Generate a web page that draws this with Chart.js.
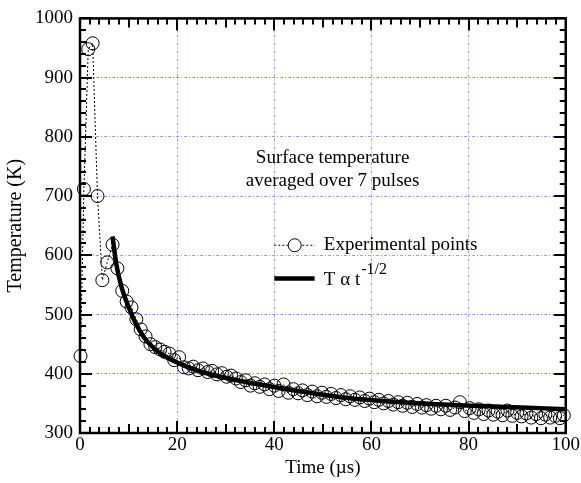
<!DOCTYPE html>
<html>
<head>
<meta charset="utf-8">
<script src="https://cdn.jsdelivr.net/npm/chart.js@4/dist/chart.umd.min.js"></script>
<style>
html,body{margin:0;padding:0;background:#fff;}
#wrap{width:581px;height:483px;}
</style>
</head>
<body>
<div id="wrap"><canvas id="c" width="581" height="483"></canvas></div>
<script>
// ---- data ----
const expTimes = [0.1,0.8,1.7,2.6,3.6,4.6,5.6,6.7,7.7,8.7,9.6,10.6,11.6,12.5,13.5,14.5,15.5,16.5,17.4,18.4,19.4,
  20.4,21.4,22.4,23.3,24.3,25.3,26.3,27.2,28.2,29.2,30.2,31.1,32.1,33.1,34.1,35.1,36.0,37.0,38.0,39.0,40.0,
  40.9,41.9,42.9,43.9,44.9,45.8,46.8,47.8,48.8,49.8,50.7,51.7,52.7,53.7,54.7,55.6,56.6,57.6,58.6,59.6,60.6,
  61.5,62.5,63.5,64.5,65.5,66.4,67.4,68.4,69.4,70.4,71.3,72.3,73.3,74.3,75.3,76.2,77.2,78.2,79.2,80.2,
  81.1,82.1,83.1,84.1,85.1,86.0,87.0,88.0,89.0,90.0,90.9,91.9,92.9,93.9,94.9,95.8,96.8,97.8,98.8,99.6];
const expTemps = [430,712,948,958,700,558,588,618,578,540,522,512,492,475,463,450,445,441,437,434,423,
  428,411,409,412,406,409,403,405,399,401,395,397,392,386,389,380,384,378,382,374,380,
  371,382,368,374,367,372,364,370,362,368,361,366,359,364,357,362,356,360,354,358,352,
  356,350,354,348,352,346,351,344,349,343,347,341,346,340,346,339,343,352,337,342,
  334,340,332,338,331,336,330,338,329,334,328,333,326,332,325,331,326,329,325,330];
const fitTimes = [6.7,7.5,8.6,9.9,11.3,13.3,15.0,16.8,20.3,23.6,27.4,34.2,41.1,48.0,54.1,60.9,67.8,75.0,80.8,87.6,94.5,100];
const fitTemps = [632,584,545,515,488,460,445,433,418,407,398,386,376,367,360,355,351,348,346,344,342,340];
const xTicks = [0,20,40,60,80,100];
const yTicks = [300,400,500,600,700,800,900,1000];
const xLabel = 'Time (µs)';
const yLabel = 'Temperature (K)';
const noteLines = ['Surface temperature','averaged over 7 pulses'];
const legendLabels = ['Experimental points','T α t'];
const legendSup = '-1/2';

const FONT = '"Liberation Serif", "Times New Roman", serif';
const GRID = 'rgba(90,90,255,0.6)';

const framePlugin = {
  id: 'frame',
  beforeDatasetsDraw(chart) {
    const {ctx, chartArea: a, scales: {x, y}} = chart;
    ctx.save();
    ctx.strokeStyle = '#000';
    ctx.lineWidth = 2;
    ctx.beginPath();
    for (let v = 0; v <= 100; v += 2) {
      const px = Math.round(x.getPixelForValue(v));
      let len = 6;
      if (v % 20 === 0) len = 12; else if (v % 10 === 0) len = 9;
      ctx.moveTo(px, a.bottom); ctx.lineTo(px, a.bottom - len);
      ctx.moveTo(px, a.top); ctx.lineTo(px, a.top + len);
    }
    for (let v = 300; v <= 1000; v += 20) {
      const py = Math.round(y.getPixelForValue(v));
      const len = (v % 100 === 0) ? 12 : 6;
      ctx.moveTo(a.left, py); ctx.lineTo(a.left + len, py);
      ctx.moveTo(a.right, py); ctx.lineTo(a.right - len, py);
    }
    ctx.stroke();
    ctx.lineWidth = 2.5;
    ctx.strokeRect(a.left, a.top, a.right - a.left, a.bottom - a.top);
    ctx.restore();
  },
  afterDraw(chart) {
    const {ctx, scales: {x, y}} = chart;
    ctx.save();
    ctx.fillStyle = '#000';
    ctx.font = '19px ' + FONT;
    ctx.textAlign = 'center';
    ctx.textBaseline = 'middle';
    ctx.fillText(noteLines[0], x.getPixelForValue(52), y.getPixelForValue(764));
    ctx.fillText(noteLines[1], x.getPixelForValue(52), y.getPixelForValue(726));
    const lx0 = x.getPixelForValue(40.0), lx1 = x.getPixelForValue(48.3), lxc = x.getPixelForValue(44.2);
    const ly1 = y.getPixelForValue(617), ly2 = y.getPixelForValue(561);
    ctx.strokeStyle = '#000';
    ctx.lineWidth = 1;
    ctx.setLineDash([2, 2]);
    ctx.beginPath(); ctx.moveTo(lx0, ly1); ctx.lineTo(lx1, ly1); ctx.stroke();
    ctx.setLineDash([]);
    ctx.fillStyle = '#fff';
    ctx.beginPath(); ctx.arc(lxc, ly1, 6.5, 0, Math.PI * 2); ctx.fill(); ctx.stroke();
    ctx.lineWidth = 4.5;
    ctx.beginPath(); ctx.moveTo(lx0, ly2); ctx.lineTo(lx1, ly2); ctx.stroke();
    ctx.fillStyle = '#000';
    ctx.textAlign = 'left';
    const tx = x.getPixelForValue(50.2);
    ctx.fillText(legendLabels[0], tx, ly1);
    ctx.fillText(legendLabels[1], tx, ly2 + 2);
    const w = ctx.measureText(legendLabels[1]).width;
    ctx.font = '16px ' + FONT;
    ctx.fillText(legendSup, tx + w + 1, ly2 - 9);
    ctx.restore();
  }
};

const gridColor = (ctx) => {
  const v = ctx.tick && ctx.tick.value;
  const s = ctx.scale;
  if (v === s.min || v === s.max) return 'rgba(0,0,0,0)';
  return GRID;
};

new Chart(document.getElementById('c'), {
  type: 'scatter',
  data: {
    datasets: [
      {
        label: 'fit',
        data: fitTimes.map((t, i) => ({x: t, y: fitTemps[i]})),
        showLine: true,
        borderColor: '#000',
        borderWidth: 4.5,
        pointRadius: 0,
        tension: 0.4,
        clip: false,
        order: 0
      },
      {
        label: 'exp',
        data: expTimes.map((t, i) => ({x: t, y: expTemps[i]})),
        showLine: true,
        borderColor: '#000',
        borderWidth: 1,
        borderDash: [2, 2],
        pointRadius: 6.5,
        pointBorderWidth: 1,
        pointBorderColor: '#000',
        pointBackgroundColor: 'rgba(0,0,0,0)',
        clip: false,
        order: 1
      }
    ]
  },
  options: {
    responsive: false,
    animation: false,
    devicePixelRatio: 1,
    layout: {padding: {top: 15, right: 14, left: 0, bottom: 0}},
    plugins: {legend: {display: false}, tooltip: {enabled: false}},
    scales: {
      x: {
        type: 'linear', min: 0, max: 100,
        afterBuildTicks: (s) => { s.ticks = xTicks.map(v => ({value: v})); },
        afterFit: (s) => { s.height = 50; },
        ticks: {color: '#000', font: {family: FONT, size: 19}, padding: 1, maxRotation: 0, callback: (v) => String(v)},
        grid: {color: gridColor, lineWidth: 1, drawTicks: false},
        border: {display: false, dash: [3, 2, 1, 2]},
        title: {display: true, text: xLabel, color: '#000', font: {family: FONT, size: 19}, padding: {top: 0, bottom: 4}}
      },
      y: {
        type: 'linear', min: 300, max: 1000,
        afterBuildTicks: (s) => { s.ticks = yTicks.map(v => ({value: v})); },
        afterFit: (s) => { s.width = 80; },
        ticks: {color: '#000', font: {family: FONT, size: 19}, padding: 7, callback: (v) => String(v)},
        grid: {color: gridColor, lineWidth: 1, drawTicks: false},
        border: {display: false, dash: [3, 2, 1, 2]},
        title: {display: true, text: yLabel, color: '#000', font: {family: FONT, size: 20}, padding: {top: 4, bottom: 4}}
      }
    }
  },
  plugins: [framePlugin]
});
</script>
</body>
</html>
